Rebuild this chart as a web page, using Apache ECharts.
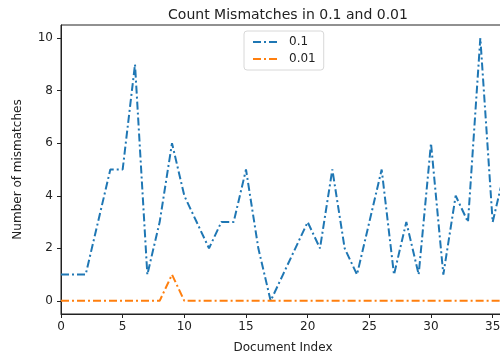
<!DOCTYPE html>
<html>
<head>
<meta charset="utf-8">
<script src="https://cdn.jsdelivr.net/npm/echarts@6/dist/echarts.min.js"></script>
<style>
  html, body { margin: 0; padding: 0; background: #fff; }
  #chart { width: 500px; height: 358px; }
</style>
</head>
<body>
<div id="chart"></div>
<script>
// Mismatch counts per document for the two thresholds
const docIndex = [0,1,2,3,4,5,6,7,8,9,10,11,12,13,14,15,16,17,18,19,20,21,22,23,24,25,26,27,28,29,30,31,32,33,34,35,36];
const mismatches01 = [1,1,1,3,5,5,9,1,3,6,4,3,2,3,3,5,2,0,1,2,3,2,5,2,1,3,5,1,3,1,6,1,4,3,10,3,5];
const mismatches001 = [0,0,0,0,0,0,0,0,0,1,0,0,0,0,0,0,0,0,0,0,0,0,0,0,0,0,0,0,0,0,0,0,0,0,0,0,0];
const xTicks = [0,5,10,15,20,25,30,35];
const yTicks = [0,2,4,6,8,10];

const pairs = vals => vals.map((v, i) => [docIndex[i], v]);
const font = 'DejaVu Sans';
const dashDot = [8, 3, 2, 3];

const chart = echarts.init(document.getElementById('chart'), null, { renderer: 'canvas' });
chart.setOption({
  animation: false,
  backgroundColor: '#fff',
  title: {
    text: 'Count Mismatches in 0.1 and 0.01',
    left: 283, top: 3, textAlign: 'center',
    textStyle: { fontFamily: font, fontSize: 14, fontWeight: 'normal', color: '#222' }
  },
  legend: {
    orient: 'vertical', left: 244, top: 31,
    itemWidth: 26, itemHeight: 14, itemGap: 5,
    padding: [5, 8, 5, 8],
    borderColor: '#d8d8d8', borderWidth: 1, borderRadius: 3,
    backgroundColor: 'rgba(255,255,255,0.8)',
    itemStyle: { opacity: 0 },
    lineStyle: { width: 2, type: dashDot },
    textStyle: { fontFamily: font, fontSize: 12, color: '#222', padding: [0, 0, 0, 5] },
    data: ['0.1', '0.01']
  },
  grid: {
    left: 61, width: 444, top: 25, bottom: 44,
    outerBoundsMode: 'none', containLabel: false,
    show: true, borderColor: '#222', borderWidth: 1, backgroundColor: 'transparent'
  },
  xAxis: {
    type: 'value', min: 0, max: 36, interval: 5,
    name: 'Document Index', nameLocation: 'middle', nameGap: 28,
    nameTextStyle: { fontFamily: font, fontSize: 12, color: '#222' },
    axisLine: { show: true, onZero: false, lineStyle: { color: '#222', width: 1 } },
    axisTick: { show: true, length: 4, customValues: xTicks, lineStyle: { color: '#222' } },
    axisLabel: { customValues: xTicks, fontFamily: font, fontSize: 12, color: '#222', margin: 7 },
    splitLine: { show: false }
  },
  yAxis: {
    type: 'value', min: -0.5, max: 10.5,
    name: 'Number of mismatches', nameLocation: 'middle', nameGap: 37, nameRotate: 90,
    nameTextStyle: { fontFamily: font, fontSize: 12, color: '#222' },
    axisLine: { show: true, onZero: false, lineStyle: { color: '#222', width: 1 } },
    axisTick: { show: true, length: 4, customValues: yTicks, lineStyle: { color: '#222' } },
    axisLabel: { customValues: yTicks, fontFamily: font, fontSize: 12, color: '#222', margin: 8 },
    splitLine: { show: false }
  },
  series: [
    {
      name: '0.1', type: 'line', data: pairs(mismatches01),
      symbol: 'none', color: '#1f77b4',
      lineStyle: { color: '#1f77b4', width: 2, type: dashDot }
    },
    {
      name: '0.01', type: 'line', data: pairs(mismatches001),
      symbol: 'none', color: '#ff7f0e',
      lineStyle: { color: '#ff7f0e', width: 2, type: dashDot }
    }
  ]
});
</script>
</body>
</html>
